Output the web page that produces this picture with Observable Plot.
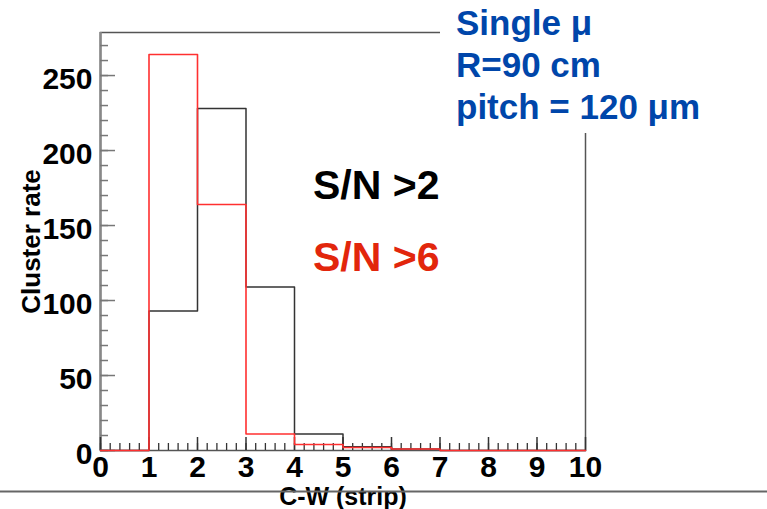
<!DOCTYPE html>
<html>
<head>
<meta charset="utf-8">
<script src="https://cdn.jsdelivr.net/npm/d3@7"></script>
<script src="https://cdn.jsdelivr.net/npm/@observablehq/plot@0.6"></script>
<style>
  html, body { margin: 0; padding: 0; background: #fff; }
  #wrap { position: relative; width: 767px; height: 509px; font-family: "Liberation Sans", Arial, sans-serif; }
  #info { position: absolute; left: 440px; top: 0; width: 327px; height: 133px; background: #fff;
          color: #0046aa; font-weight: bold; font-size: 35px; line-height: 42px; padding-left: 16px; box-sizing: border-box; padding-top: 2px; }
  .leg { position: absolute; left: 313px; font-weight: bold; font-size: 41px; line-height: 41px; }
</style>
</head>
<body>
<div id="wrap">
  <div id="chart"></div>
  <div id="info">Single μ<br>R=90 cm<br>pitch = 120 μm</div>
  <div class="leg" style="top:165px;color:#000">S/N &gt;2</div>
  <div class="leg" style="top:237px;color:#e2260c">S/N &gt;6</div>
</div>
<script>
// Bin lower edges (strips) and histogram contents
const binEdges = [0, 1, 2, 3, 4, 5, 6, 7, 8, 9];
const binWidth = 1;
const snGt2 = [0, 93, 228, 109, 11, 2.5, 1, 0, 0, 0];
const snGt6 = [0, 264, 164, 11, 4, 2, 1, 0, 0, 0];

const xMajor = [0, 1, 2, 3, 4, 5, 6, 7, 8, 9, 10];
const yMajor = [0, 50, 100, 150, 200, 250];
const xMinor = d3.range(0, 50).map(i => i / 5);
const yMinor = d3.range(0, 28).map(i => i * 10);

function stepData(vals) {
  const pts = binEdges.map((e, i) => ({x: e, y: vals[i]}));
  pts.push({x: binEdges[binEdges.length - 1] + binWidth, y: vals[vals.length - 1]});
  return pts;
}

const W = 767, H = 509;
const mL = 100, mR = 182, mT = 32, mB = 59;
const fw = W - mL - mR, fh = H - mT - mB;

const chart = Plot.plot({
  width: W, height: H,
  marginLeft: mL, marginRight: mR, marginTop: mT, marginBottom: mB,
  style: {fontFamily: "Liberation Sans, Arial, sans-serif", background: "#fff", overflow: "visible"},
  x: {domain: [0, 10]},
  y: {domain: [0, 278.7]},
  marks: [
    Plot.frame({stroke: "#555", strokeWidth: 1.5}),
    Plot.ruleX([0], {stroke: "#888", strokeWidth: 2.5}),
    // x ticks (inside)
    Plot.tickX(xMinor, {x: d => d, insetTop: fh - 7, stroke: "#333", strokeWidth: 1.3}),
    Plot.tickX(xMajor, {x: d => d, insetTop: fh - 13, stroke: "#333", strokeWidth: 1.5}),
    // y ticks (inside)
    Plot.tickY(yMinor, {y: d => d, insetRight: fw - 8, stroke: "#777", strokeWidth: 1.5}),
    Plot.tickY(yMajor, {y: d => d, insetRight: fw - 15, stroke: "#777", strokeWidth: 1.5}),
    Plot.axisX(xMajor, {tickSize: 0, tickPadding: 5, fontSize: 30, fontWeight: "bold", fill: "#000", label: null}),
    Plot.axisY(yMajor, {tickSize: 0, tickPadding: 8, dy: 4, fontSize: 30, fontWeight: "bold", fill: "#000", label: null}),
    Plot.line(stepData(snGt2), {x: "x", y: "y", curve: "step-after", stroke: "#333", strokeWidth: 1.5}),
    Plot.line(stepData(snGt6), {x: "x", y: "y", curve: "step-after", stroke: "#ff3030", strokeWidth: 1.6}),
    Plot.text(["Cluster rate"], {frameAnchor: "left", textAnchor: "middle", rotate: -90, dx: -69, dy: 0, fontSize: 26, fontWeight: "bold", fill: "#000"}),
    Plot.text(["C-W (strip)"], {frameAnchor: "bottom", dy: 46, fontSize: 25, fontWeight: "bold", fill: "#000", lineAnchor: "middle"}),
    Plot.ruleY([0], {dy: 41, insetLeft: -mL, insetRight: -mR, stroke: "#666", strokeWidth: 2})
  ]
});
document.getElementById("chart").appendChild(chart);
</script>
</body>
</html>
